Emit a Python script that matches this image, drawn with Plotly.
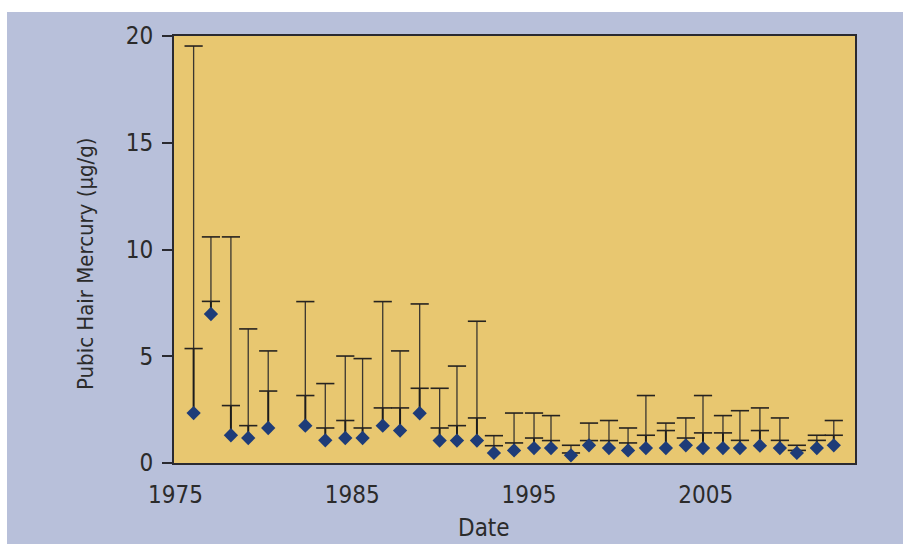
import plotly.graph_objects as go

# ---- data ----
years = [1976.03, 1977.01, 1978.14, 1979.12, 1980.25, 1982.35, 1983.48, 1984.61, 1985.59,
         1986.73, 1987.71, 1988.82, 1989.95, 1990.93, 1992.06, 1993.02, 1994.16, 1995.29,
         1996.25, 1997.38, 1998.40, 1999.53, 2000.61, 2001.62, 2002.75, 2003.88, 2004.85,
         2005.98, 2006.94, 2008.07, 2009.20, 2010.16, 2011.29, 2012.25]
mercury = [2.34, 6.98, 1.30, 1.17, 1.64, 1.75, 1.06, 1.17, 1.17, 1.75, 1.52, 2.33, 1.05,
           1.05, 1.05, 0.47, 0.59, 0.70, 0.70, 0.36, 0.83, 0.70, 0.59, 0.70, 0.70, 0.83,
           0.70, 0.70, 0.70, 0.81, 0.70, 0.47, 0.70, 0.83]
mid_bar = [5.36, 7.57, 2.69, 1.75, 3.37, 3.16, 1.64, 1.99, 1.64, 2.58, 2.58, 3.50, 1.64,
           1.75, 2.11, 0.81, 0.94, 1.17, 1.05, 0.47, 1.05, 1.05, 0.94, 1.30, 1.52, 1.17,
           1.41, 1.41, 1.06, 1.52, 1.06, 0.59, 1.06, 1.30]
top_bar = [19.53, 10.59, 10.59, 6.28, 5.25, 7.56, 3.72, 5.01, 4.89, 7.56, 5.25, 7.45, 3.50,
           4.54, 6.64, 1.28, 2.34, 2.34, 2.22, 0.83, 1.87, 1.99, 1.64, 3.16, 1.87, 2.11,
           3.16, 2.22, 2.45, 2.58, 2.11, 0.83, 1.30, 1.99]
x_ticks = [1975, 1985, 1995, 2005]
y_ticks = [0, 5, 10, 15, 20]

FONT = "Liberation Sans Narrow, DejaVu Sans Condensed, Roboto Condensed, Arial Narrow, sans-serif"
W, H = 903, 544
ML, MR, MT, MB = 174, 48, 36, 81
PW, PH = W - ML - MR, H - MT - MB


def px_x(p):
    return (p - ML) / PW


def px_y(p):
    return (H - MB - p) / PH


fig = go.Figure()

# stems: lower (marker -> middle tick) and upper (middle tick -> top cap)
lx, ly, ux, uy = [], [], [], []
for x, v, m, t in zip(years, mercury, mid_bar, top_bar):
    lx += [x, x, None]
    ly += [v, m, None]
    ux += [x, x, None]
    uy += [m, t, None]

fig.add_trace(go.Scatter(x=ux, y=uy, mode="lines", line=dict(color="#3a3630", width=1.3),
                         hoverinfo="skip", showlegend=False))
fig.add_trace(go.Scatter(x=lx, y=ly, mode="lines", line=dict(color="#1c1c1c", width=2),
                         hoverinfo="skip", showlegend=False))
# caps
fig.add_trace(go.Scatter(x=years + years, y=top_bar + mid_bar, mode="markers",
                         marker=dict(symbol="line-ew", size=13,
                                     line=dict(color="#262320", width=1.6)),
                         hoverinfo="skip", showlegend=False))
# diamonds
fig.add_trace(go.Scatter(x=years, y=mercury, mode="markers",
                         marker=dict(symbol="diamond", size=11, color="#1e3c78",
                                     line=dict(width=0)),
                         showlegend=False))

shapes = [
    dict(type="rect", xref="paper", yref="paper", layer="below",
         x0=px_x(7), x1=px_x(W + 5), y0=px_y(H + 5), y1=px_y(12),
         fillcolor="#b8c0da", line=dict(width=0)),
    dict(type="rect", xref="paper", yref="paper", layer="below",
         x0=0, x1=1, y0=0, y1=1, fillcolor="#e8c770", line=dict(width=0)),
]

annotations = [
    dict(text="Date", xref="paper", yref="paper", x=px_x(484), y=px_y(528),
         xanchor="center", yanchor="middle", showarrow=False,
         font=dict(family=FONT, size=24, color="#2b2b2b")),
    dict(text="Pubic Hair Mercury (µg/g)", xref="paper", yref="paper",
         x=px_x(85), y=px_y(264), textangle=-90,
         xanchor="center", yanchor="middle", showarrow=False,
         font=dict(family=FONT, size=22, color="#2b2b2b")),
]

fig.update_layout(
    width=W, height=H,
    margin=dict(l=ML, r=MR, t=MT, b=MB),
    paper_bgcolor="white",
    plot_bgcolor="#e8c770",
    shapes=shapes,
    annotations=annotations,
    font=dict(family=FONT, color="#2b2b2b"),
    xaxis=dict(range=[1974.92, 2013.45], tickvals=x_ticks, ticks="",
               showgrid=False, zeroline=False, showline=True, mirror=True,
               linecolor="#2a2a30", linewidth=2,
               tickfont=dict(family=FONT, size=24, color="#2b2b2b"),
               ticklabelstandoff=9),
    yaxis=dict(range=[0, 20], tickvals=y_ticks, ticks="outside", ticklen=10,
               tickwidth=1.5, tickcolor="#2a2a30",
               showgrid=False, zeroline=False, showline=True, mirror=True,
               linecolor="#2a2a30", linewidth=2,
               tickfont=dict(family=FONT, size=24, color="#2b2b2b"),
               ticklabelstandoff=4),
)

fig.write_html("out.html")
